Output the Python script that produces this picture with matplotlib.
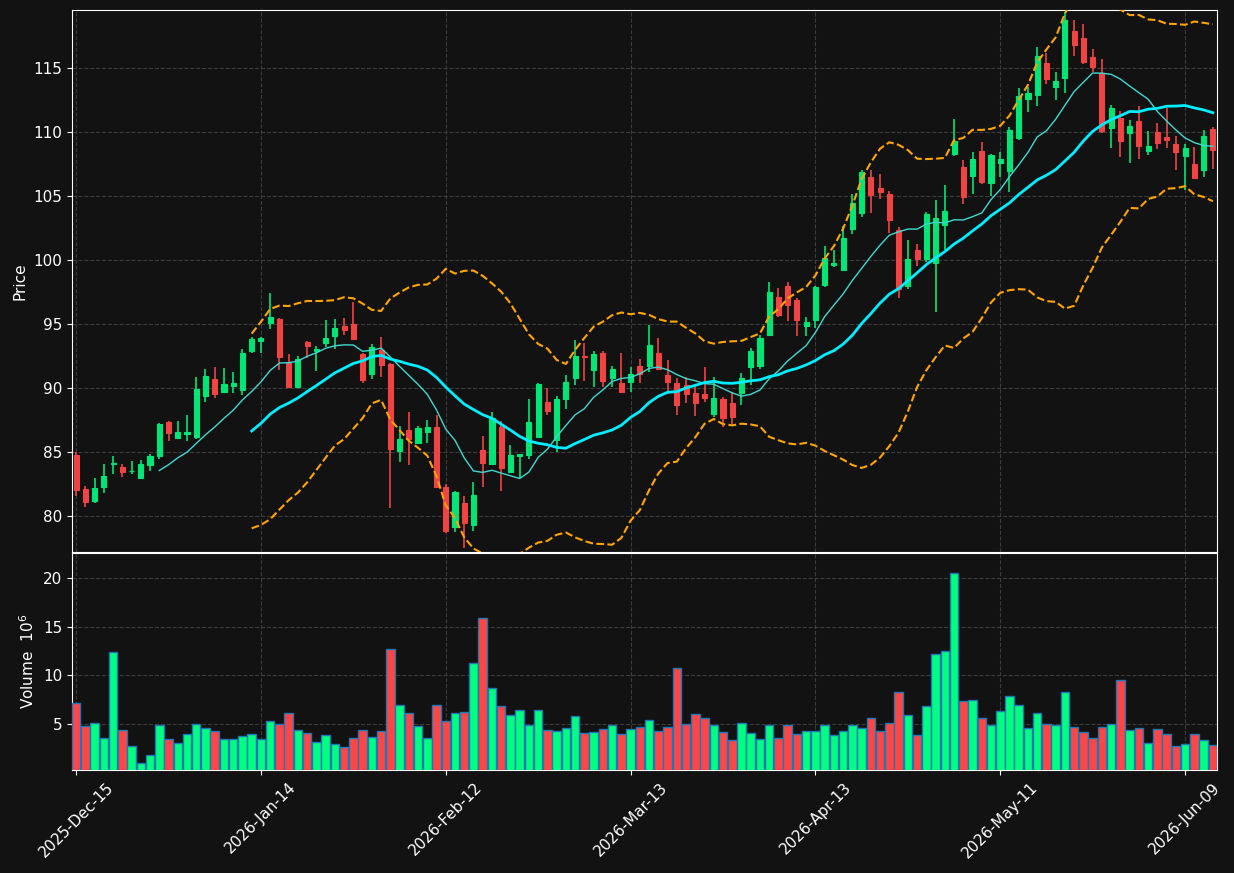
import numpy as np
import pandas as pd
import matplotlib
matplotlib.use('Agg')
import matplotlib.pyplot as plt

# trading days (NYSE holidays skipped)
holidays = ['2025-12-25', '2026-01-01', '2026-01-19', '2026-02-16', '2026-04-03', '2026-05-25']
dates = pd.bdate_range('2025-12-15', '2026-06-12', freq='C', holidays=holidays)

opens = [84.77, 82.11, 81.20, 82.29, 84.08, 83.83, 83.50, 82.99, 84.01, 84.71,
         87.34, 86.09, 86.43, 86.17, 89.40, 90.68, 89.69, 90.18, 89.84, 92.89,
         93.70, 95.08, 95.39, 92.00, 90.10, 93.59, 92.92, 93.54, 94.09, 94.84,
         95.00, 92.66, 91.10, 92.97, 91.88, 85.10, 86.72, 85.73, 86.59, 86.95,
         82.27, 79.17, 81.02, 79.30, 85.16, 84.09, 86.95, 83.46, 84.71, 84.77,
         86.20, 88.91, 85.96, 89.14, 90.81, 92.50, 91.41, 92.73, 90.78, 90.39,
         90.47, 91.72, 91.72, 92.73, 91.03, 90.39, 90.21, 89.61, 89.53, 87.97,
         89.14, 88.83, 89.64, 91.67, 91.74, 94.16, 97.11, 97.97, 96.88, 94.87,
         95.34, 98.05, 99.61, 99.24, 102.42, 103.70, 106.48, 105.63, 105.16, 102.34,
         97.97, 100.78, 100.08, 99.79, 102.76, 108.30, 107.29, 106.59, 108.52, 106.04,
         107.58, 106.95, 109.56, 112.60, 112.92, 115.39, 113.54, 114.24, 117.89, 117.34,
         115.86, 114.58, 110.34, 111.12, 109.95, 110.86, 108.54, 110.00, 109.61, 109.06,
         108.15, 107.50, 107.06, 110.23]
highs = [85.03, 82.32, 82.97, 84.04, 84.66, 84.09, 84.30, 84.38, 84.84, 87.29,
         87.40, 87.40, 87.86, 90.88, 91.50, 91.66, 91.54, 91.25, 93.02, 94.01,
         93.95, 97.40, 95.45, 92.66, 92.47, 93.67, 93.31, 95.29, 95.36, 95.44,
         96.74, 92.72, 93.41, 94.01, 91.95, 87.06, 88.10, 87.03, 87.47, 87.92,
         82.50, 81.96, 81.56, 82.66, 86.25, 88.10, 87.45, 85.52, 84.86, 89.11,
         90.37, 89.97, 89.38, 90.99, 93.75, 93.49, 92.92, 92.92, 91.69, 92.71,
         91.67, 92.27, 94.90, 93.88, 92.18, 90.76, 90.89, 90.18, 91.61, 90.83,
         89.30, 89.69, 91.20, 93.10, 94.14, 98.25, 97.81, 98.25, 97.03, 95.52,
         97.95, 101.07, 100.78, 102.66, 105.13, 107.03, 107.05, 106.69, 105.41, 102.60,
         101.56, 101.23, 103.77, 104.66, 105.86, 111.00, 107.81, 108.44, 109.24, 108.30,
         108.47, 110.37, 113.46, 113.54, 116.61, 116.15, 114.71, 119.40, 118.75, 118.41,
         116.46, 115.68, 112.11, 111.64, 110.94, 112.06, 110.08, 110.68, 111.85, 109.66,
         109.06, 108.85, 110.16, 110.37]
lows = [81.59, 80.68, 81.04, 81.77, 83.31, 83.02, 83.31, 82.92, 83.54, 84.48,
        85.88, 86.02, 85.85, 86.04, 88.88, 89.19, 89.65, 89.59, 89.43, 92.71,
        92.71, 94.63, 91.43, 90.05, 90.05, 92.32, 91.30, 93.23, 93.07, 94.14,
        93.78, 90.42, 90.70, 90.89, 80.65, 84.24, 84.01, 85.68, 85.73, 82.25,
        78.65, 78.78, 77.47, 78.85, 82.24, 84.00, 81.98, 83.39, 82.98, 84.43,
        86.15, 87.92, 84.97, 88.38, 90.21, 90.57, 90.05, 90.05, 90.10, 89.64,
        89.71, 90.42, 91.27, 91.40, 89.50, 87.92, 88.80, 87.79, 88.93, 87.76,
        86.98, 87.21, 88.65, 90.23, 91.46, 94.09, 95.57, 95.26, 94.04, 94.04,
        94.66, 97.86, 99.43, 99.20, 102.00, 103.34, 103.65, 104.74, 102.08, 97.00,
        97.71, 99.51, 99.87, 95.96, 100.78, 108.10, 104.35, 105.13, 105.96, 105.00,
        106.51, 105.29, 109.38, 111.54, 112.00, 113.72, 112.50, 113.05, 115.94, 115.31,
        114.69, 109.95, 108.72, 108.07, 107.55, 107.87, 108.18, 108.65, 108.77, 107.00,
        105.47, 106.35, 106.46, 107.08]
closes = [82.03, 81.12, 82.19, 83.13, 84.14, 83.46, 83.55, 84.06, 84.69, 87.19,
          86.51, 86.56, 86.59, 89.92, 90.94, 89.56, 90.31, 90.39, 92.73, 93.83,
          93.91, 95.55, 92.42, 90.10, 92.24, 93.31, 93.05, 93.91, 94.69, 94.53,
          93.83, 90.63, 93.20, 91.82, 85.26, 86.02, 85.99, 86.88, 86.95, 82.29,
          78.85, 81.88, 79.43, 81.64, 84.17, 87.68, 83.78, 84.77, 84.84, 87.34,
          90.34, 88.23, 89.14, 90.47, 92.50, 92.45, 92.66, 90.55, 91.48, 89.69,
          91.09, 91.09, 93.36, 91.46, 90.47, 88.67, 89.53, 88.85, 89.24, 89.22,
          87.66, 87.76, 90.78, 92.89, 93.88, 97.50, 95.70, 96.51, 95.34, 95.16,
          97.90, 100.13, 99.74, 101.69, 104.43, 106.85, 105.10, 105.31, 103.13, 97.73,
          100.08, 100.08, 103.59, 103.28, 103.83, 109.30, 104.95, 107.89, 106.07, 108.18,
          107.89, 110.16, 112.81, 113.02, 115.91, 114.14, 113.98, 118.75, 116.82, 115.44,
          115.05, 110.08, 111.88, 109.32, 110.47, 108.93, 108.91, 109.16, 109.40, 108.46,
          108.75, 106.43, 109.69, 108.62]
# volume in millions
volumes = [7.19, 4.76, 5.13, 3.53, 12.37, 4.35, 2.71, 0.96, 1.78, 4.93,
           3.42, 3.01, 3.94, 5.03, 4.56, 4.25, 3.42, 3.42, 3.73, 3.94,
           3.42, 5.27, 4.97, 6.10, 4.35, 4.04, 3.12, 3.84, 2.91, 2.61,
           3.53, 4.35, 3.63, 4.25, 12.68, 6.92, 6.10, 4.76, 3.53, 6.92,
           5.27, 6.10, 6.21, 11.24, 15.86, 8.67, 6.82, 5.89, 6.41, 4.87,
           6.41, 4.35, 4.25, 4.56, 5.79, 4.04, 4.15, 4.46, 4.87, 3.94,
           4.46, 4.66, 5.38, 4.25, 4.66, 10.72, 4.97, 5.99, 5.58, 4.87,
           4.15, 3.32, 5.07, 4.04, 3.42, 4.87, 3.53, 4.87, 3.94, 4.25,
           4.25, 4.87, 3.84, 4.25, 4.87, 4.56, 5.58, 4.25, 5.07, 8.26,
           5.89, 3.84, 6.82, 12.16, 12.47, 20.49, 7.33, 7.43, 5.58, 4.87,
           6.31, 7.85, 6.92, 4.56, 6.10, 4.97, 4.87, 8.26, 4.66, 4.15,
           3.53, 4.66, 4.97, 9.49, 4.35, 4.56, 3.01, 4.46, 3.94, 2.71,
           2.91, 3.94, 3.32, 2.81]

BG = '#121212'
UP = '#00e676'
DOWN = '#f04444'
VOL_UP = '#00ff80'
VOL_DOWN = '#ff4646'

df = pd.DataFrame({'Open': opens, 'High': highs, 'Low': lows, 'Close': closes,
                   'Volume': volumes}, index=dates)
x = np.arange(len(df))
up = df['Close'] >= df['Open']

mav10 = df['Close'].rolling(10).mean()
mav20 = df['Close'].rolling(20).mean()
std20 = df['Close'].rolling(20).std()
bb_up = mav20 + 2 * std20
bb_lo = mav20 - 2 * std20

plt.rcParams.update({
    'font.family': 'DejaVu Sans',
    'axes.edgecolor': 'white',
    'axes.labelcolor': 'white',
    'xtick.color': 'white',
    'ytick.color': 'white',
    'font.size': 11,
})

fig = plt.figure(figsize=(12.34, 8.73), dpi=100, facecolor=BG)
ax1 = fig.add_axes([0.0583, 0.3677, 0.9279, 0.6208], facecolor=BG)
ax2 = fig.add_axes([0.0583, 0.1180, 0.9279, 0.2486], facecolor=BG, sharex=ax1)

# candles
colors = [UP if u else DOWN for u in up]
ax1.vlines(x, df['Low'], df['High'], colors=colors, linewidth=1.2, zorder=2)
body_lo = np.minimum(df['Open'], df['Close'])
body_h = np.abs(df['Close'] - df['Open'])
ax1.bar(x, body_h, bottom=body_lo, width=0.55, color=colors, edgecolor=colors,
        linewidth=0.8, zorder=3)

ax1.plot(x, mav10, color='#40d8d0', linewidth=1.0, zorder=4)
ax1.plot(x, mav20, color='#00eeff', linewidth=2.0, zorder=4)
ax1.plot(x, bb_up, color='orange', linestyle='--', linewidth=1.5, zorder=4)
ax1.plot(x, bb_lo, color='orange', linestyle='--', linewidth=1.5, zorder=4)

ax1.set_ylim(77.19, 119.53)
ax1.set_yticks([80, 85, 90, 95, 100, 105, 110, 115])
ax1.set_ylabel('Price')

# volume
vcolors = [VOL_UP if u else VOL_DOWN for u in up]
ax2.bar(x, df['Volume'], width=0.92, color=vcolors, edgecolor='#1f77b4',
        linewidth=1.0, zorder=3)
ax2.set_ylim(0.27, 22.57)
ax2.set_yticks([5, 10, 15, 20])
ax2.set_ylabel('Volume  $10^{6}$')

tick_pos = list(range(0, len(df), 20))
ax2.set_xticks(tick_pos)
ax2.set_xticklabels([dates[i].strftime('%Y-%b-%d') for i in tick_pos], rotation=45)
ax2.set_xlim(-0.45, len(df) - 1 + 0.45)
plt.setp(ax1.get_xticklabels(), visible=False)

for ax in (ax1, ax2):
    ax.grid(True, color='#3c3c3c', linestyle='--', linewidth=0.8)
    ax.set_axisbelow(True)
    for s in ax.spines.values():
        s.set_color('white')

fig.savefig('out.png', dpi=100, facecolor=BG)
